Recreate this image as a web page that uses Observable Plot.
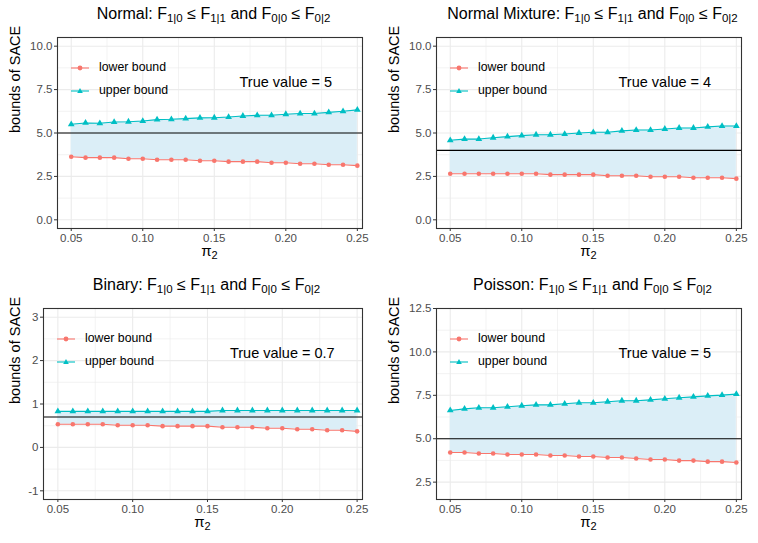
<!DOCTYPE html>
<html>
<head>
<meta charset="utf-8">
<script src="https://cdn.jsdelivr.net/npm/d3@7"></script>
<script src="https://cdn.jsdelivr.net/npm/@observablehq/plot@0.6"></script>
<style>
  body { margin: 0; background: #fff; font-family: "Liberation Sans", Arial, sans-serif; }
  #root { position: relative; width: 758px; height: 543px; background: #fff; overflow: hidden; }
  .panel { position: absolute; width: 379px; height: 271px; }
  .panel svg { position: absolute; left: 0; top: 0; }
  .title { position: absolute; top: 5px; text-align: center; font-size: 16px; line-height: 18px; color: #000; white-space: nowrap; }
  .title sub { font-size: 11.5px; vertical-align: -0.3em; line-height: 0; }
  .xlab { position: absolute; top: 243px; text-align: center; font-size: 15px; line-height: 15px; color: #000; }
  .xlab sub { font-size: 11px; vertical-align: -0.3em; line-height: 0; }
  .legend { position: absolute; font-size: 12.3px; color: #000; }
  .legend .row { position: absolute; left: 0; height: 20px; white-space: nowrap; }
  .legend svg { position: absolute; left: 0; top: 0; }
  .legend span { position: absolute; left: 28px; top: 2px; }
</style>
</head>
<body>
<div id="root"></div>
<script>
// ---- data ----
const pi2 = [0.05, 0.06, 0.07, 0.08, 0.09, 0.10, 0.11, 0.12, 0.13, 0.14, 0.15,
             0.16, 0.17, 0.18, 0.19, 0.20, 0.21, 0.22, 0.23, 0.24, 0.25];

const normalLower = [3.63, 3.58, 3.58, 3.58, 3.52, 3.52, 3.46, 3.46, 3.46, 3.40, 3.40,
                     3.35, 3.35, 3.35, 3.29, 3.29, 3.23, 3.23, 3.17, 3.17, 3.12];
const normalUpper = [5.50, 5.58, 5.56, 5.63, 5.65, 5.69, 5.77, 5.79, 5.83, 5.87, 5.88,
                     5.92, 5.98, 6.02, 6.02, 6.08, 6.12, 6.12, 6.19, 6.25, 6.33];

const mixtureLower = [2.65, 2.65, 2.65, 2.65, 2.65, 2.65, 2.65, 2.60, 2.60, 2.60, 2.60,
                      2.54, 2.54, 2.54, 2.48, 2.48, 2.48, 2.42, 2.42, 2.42, 2.37];
const mixtureUpper = [4.58, 4.65, 4.65, 4.73, 4.79, 4.85, 4.90, 4.90, 4.94, 5.00, 5.04,
                      5.04, 5.12, 5.17, 5.17, 5.23, 5.29, 5.29, 5.35, 5.40, 5.40];

const binaryLower = [0.535, 0.535, 0.535, 0.535, 0.51, 0.51, 0.51, 0.49, 0.49, 0.49, 0.49,
                     0.465, 0.465, 0.465, 0.44, 0.44, 0.42, 0.42, 0.395, 0.395, 0.37];
const binaryUpper = [0.83, 0.83, 0.83, 0.83, 0.83, 0.83, 0.83, 0.83, 0.83, 0.83, 0.83,
                     0.85, 0.85, 0.85, 0.85, 0.85, 0.85, 0.85, 0.85, 0.85, 0.85];

const poissonLower = [4.21, 4.21, 4.15, 4.15, 4.09, 4.09, 4.09, 4.03, 4.03, 3.98, 3.98,
                      3.92, 3.92, 3.86, 3.80, 3.80, 3.74, 3.74, 3.68, 3.68, 3.63];
const poissonUpper = [6.63, 6.72, 6.78, 6.78, 6.84, 6.90, 6.95, 6.95, 7.01, 7.07, 7.07,
                      7.13, 7.19, 7.19, 7.24, 7.30, 7.36, 7.41, 7.47, 7.51, 7.57];

const panelNames = ["Normal", "Normal Mixture", "Binary", "Poisson"];
const trueValues = [5, 4, 0.7, 5];
const trueLabels = ["True value = 5", "True value = 4", "True value = 0.7", "True value = 5"];
const annotX = [0.2, 0.2, 0.2, 0.2];
const annotY = [8, 8, 2.2, 10];

const xTicks = [0.05, 0.10, 0.15, 0.20, 0.25];
const xMinor = [0.075, 0.125, 0.175, 0.225];
const yTicksNormal = [0, 2.5, 5, 7.5, 10];
const yMinorNormal = [1.25, 3.75, 6.25, 8.75];
const yTicksBinary = [-1, 0, 1, 2, 3];
const yMinorBinary = [-0.5, 0.5, 1.5, 2.5];
const yTicksPoisson = [2.5, 5, 7.5, 10, 12.5];
const yMinorPoisson = [3.75, 6.25, 8.75, 11.25];

const legendLabels = ["lower bound", "upper bound"];
const colLower = "#F8766D", colUpper = "#00BFC4", ribbonFill = "#DBEEF7";

// ---- panel configuration ----
const panels = [
  {lower: normalLower, upper: normalUpper, yDomain: [-0.5, 10.5], yTicks: yTicksNormal, yMinor: yMinorNormal, fmt: d3.format(".1f"), ml: 57, left: 0, top: 0},
  {lower: mixtureLower, upper: mixtureUpper, yDomain: [-0.5, 10.5], yTicks: yTicksNormal, yMinor: yMinorNormal, fmt: d3.format(".1f"), ml: 57, left: 379, top: 0},
  {lower: binaryLower, upper: binaryUpper, yDomain: [-1.2, 3.2], yTicks: yTicksBinary, yMinor: yMinorBinary, fmt: d => String(d), ml: 43, left: 0, top: 271},
  {lower: poissonLower, upper: poissonUpper, yDomain: [1.5, 12.5], yTicks: yTicksPoisson, yMinor: yMinorPoisson, fmt: d3.format(".1f"), ml: 57, left: 379, top: 271}
];

const W = 379, H = 271, MT = 37, MB = 43, MR = 17;
const root = document.getElementById("root");

panels.forEach((p, i) => {
  const rows = pi2.map((x, j) => ({x, lo: p.lower[j], up: p.upper[j]}));
  const div = document.createElement("div");
  div.className = "panel";
  div.style.left = p.left + "px";
  div.style.top = p.top + "px";

  const chart = Plot.plot({
    width: W, height: H,
    marginTop: MT, marginBottom: MB, marginLeft: p.ml, marginRight: MR,
    style: {fontFamily: '"Liberation Sans", Arial, sans-serif', background: "transparent", overflow: "visible"},
    x: {domain: [0.0404, 0.2536]},
    y: {domain: p.yDomain},
    marks: [
      Plot.ruleX(xMinor, {stroke: "#EBEBEB", strokeWidth: 0.6}),
      Plot.ruleY(p.yMinor, {stroke: "#EBEBEB", strokeWidth: 0.6}),
      Plot.ruleX(xTicks, {stroke: "#EBEBEB", strokeWidth: 1.1}),
      Plot.ruleY(p.yTicks, {stroke: "#EBEBEB", strokeWidth: 1.1}),
      Plot.areaY(rows, {x: "x", y1: "lo", y2: "up", fill: ribbonFill}),
      Plot.ruleY([trueValues[i]], {stroke: "#000", strokeWidth: 1.1}),
      Plot.line(rows, {x: "x", y: "lo", stroke: colLower, strokeWidth: 1.1}),
      Plot.dot(rows, {x: "x", y: "lo", fill: colLower, r: 2.3, symbol: "circle"}),
      Plot.line(rows, {x: "x", y: "up", stroke: colUpper, strokeWidth: 1.1}),
      Plot.dot(rows, {x: "x", y: "up", fill: colUpper, r: 2.5, symbol: "triangle"}),
      Plot.text([trueLabels[i]], {x: () => annotX[i], y: () => annotY[i], text: d => d, dy: 1.5, fontSize: 14.5, fill: "#000"}),
      Plot.axisX({ticks: xTicks, tickFormat: d3.format(".2f"), tickSize: 3, tickPadding: 2, fontSize: 11.5, color: "#4D4D4D", stroke: "#333", label: null}),
      Plot.axisY({ticks: p.yTicks, tickFormat: p.fmt, tickSize: 3, tickPadding: 2, fontSize: 11.5, color: "#4D4D4D", stroke: "#333", label: null}),
      Plot.text(["bounds of SACE"], {frameAnchor: "left", rotate: -90, dx: -(p.ml - 15), fontSize: 14.5, fill: "#000"}),
      Plot.frame({stroke: "#333", strokeWidth: 1.1})
    ]
  });
  div.appendChild(chart);

  const plotW = W - p.ml - MR;

  const title = document.createElement("div");
  title.className = "title";
  title.style.left = (p.ml + 4) + "px";
  title.style.width = plotW + "px";
  title.innerHTML = panelNames[i] + ": F<sub>1|0</sub> \u2264 F<sub>1|1</sub> and F<sub>0|0</sub> \u2264 F<sub>0|2</sub>";
  div.appendChild(title);

  const xlab = document.createElement("div");
  xlab.className = "xlab";
  xlab.style.left = p.ml + "px";
  xlab.style.width = plotW + "px";
  xlab.innerHTML = "\u03C0<sub>2</sub>";
  div.appendChild(xlab);

  const leg = document.createElement("div");
  leg.className = "legend";
  leg.style.left = (p.ml + 14) + "px";
  leg.style.top = "58px";
  legendLabels.forEach((lab, k) => {
    const row = document.createElement("div");
    row.className = "row";
    row.style.top = (k * 23) + "px";
    const c = k === 0 ? colLower : colUpper;
    const marker = k === 0
      ? `<circle cx="9" cy="10" r="2.4" fill="${c}"/>`
      : `<path d="M9,7 L11.8,12 L6.2,12 Z" fill="${c}"/>`;
    row.innerHTML = `<svg width="20" height="20"><line x1="0" x2="18" y1="10" y2="10" stroke="${c}" stroke-width="1.1"/>${marker}</svg><span>${lab}</span>`;
    leg.appendChild(row);
  });
  div.appendChild(leg);

  root.appendChild(div);
});
</script>
</body>
</html>
